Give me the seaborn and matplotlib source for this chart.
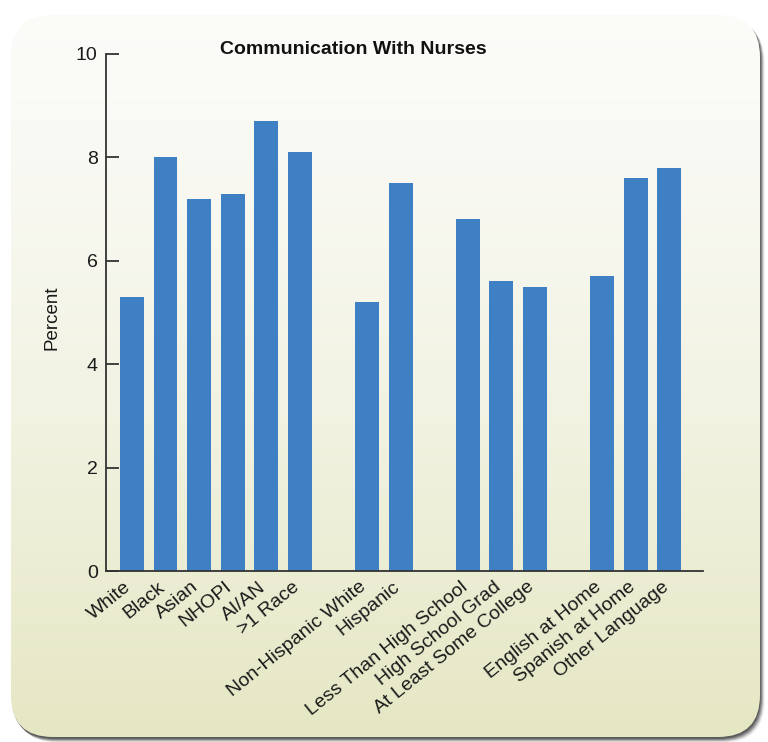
import numpy as np
import pandas as pd
import matplotlib
matplotlib.use("Agg")
import matplotlib.pyplot as plt
from matplotlib.patches import FancyBboxPatch
from matplotlib.transforms import ScaledTranslation
import seaborn as sns

# Percent by group, one list per grouping
race_labels = ["White", "Black", "Asian", "NHOPI", "AI/AN", ">1 Race"]
race_values = [5.3, 8.0, 7.2, 7.3, 8.7, 8.1]

ethnicity_labels = ["Non-Hispanic White", "Hispanic"]
ethnicity_values = [5.2, 7.5]

education_labels = ["Less Than High School", "High School Grad", "At Least Some College"]
education_values = [6.8, 5.6, 5.5]

language_labels = ["English at Home", "Spanish at Home", "Other Language"]
language_values = [5.7, 7.6, 7.8]

y_ticks = [0, 2, 4, 6, 8, 10]
title = "Communication With Nurses"
y_label = "Percent"

groups = [
    (race_labels, race_values),
    (ethnicity_labels, ethnicity_values),
    (education_labels, education_values),
    (language_labels, language_values),
]

# Build the category order with an empty slot between groups
order, tick_text, rows = [], [], []
for gi, (labels, values) in enumerate(groups):
    if gi > 0:
        spacer = " " * gi
        order.append(spacer)
        tick_text.append("")
    for lab, val in zip(labels, values):
        order.append(lab)
        tick_text.append(lab)
        rows.append({"category": lab, "percent": val})
df = pd.DataFrame(rows)

sns.set_theme(style="white")
plt.rcParams["font.family"] = ["Liberation Sans", "DejaVu Sans"]

W, H = 768, 742
fig = plt.figure(figsize=(W / 100, H / 100), dpi=100)
fig.patch.set_facecolor("white")

# Rounded panel with soft shadow and vertical gradient
bg = fig.add_axes([0, 0, 1, 1], zorder=0)
bg.set_xlim(0, W)
bg.set_ylim(H, 0)
bg.axis("off")

px0, py0, px1, py1 = 11, 15, 760, 737
rad = 42
for k, a in zip(range(10, 0, -1), np.linspace(0.04, 0.5, 10)):
    sh = FancyBboxPatch((px0 + rad + k * 0.5, py0 + rad + k * 0.5 + 1),
                        (px1 - px0) - 2 * rad, (py1 - py0) - 2 * rad,
                        boxstyle=f"round,pad={rad}", fc="#2e2e2e", ec="none",
                        alpha=a * 0.5, zorder=1)
    bg.add_patch(sh)

panel = FancyBboxPatch((px0 + rad, py0 + rad), (px1 - px0) - 2 * rad,
                       (py1 - py0) - 2 * rad, boxstyle=f"round,pad={rad}",
                       fc="none", ec="none", zorder=2)
bg.add_patch(panel)
top = np.array([0.985, 0.985, 0.975])
bot = np.array([0.898, 0.906, 0.765])
t = np.linspace(0, 1, 256) ** 1.4
grad = (top[None, :] * (1 - t[:, None]) + bot[None, :] * t[:, None])[:, None, :]
im = bg.imshow(grad, extent=(px0, px1, py1, py0), aspect="auto",
               interpolation="bilinear", zorder=2)
im.set_clip_path(panel)

# Main bar chart
ax = fig.add_axes([106 / W, 1 - 571 / H, (703 - 106) / W, (571 - 54) / H], zorder=2)
ax.set_facecolor("none")
sns.barplot(data=df, x="category", y="percent", order=order, color="#3f7fc4",
            saturation=1, width=0.71, ax=ax, edgecolor="none")

ax.set_ylim(0, 10)
ax.set_xlim(-0.77, 17.0)
ax.set_yticks(y_ticks)
ax.set_yticklabels([str(v) for v in y_ticks], fontsize=14, color="#1a1a1a")
ax.set_xticks(range(len(order)))
ax.set_xticklabels(tick_text, rotation=39, ha="right", va="top",
                   rotation_mode="anchor", fontsize=14, color="#1a1a1a")
ax.tick_params(axis="x", length=0, pad=1)
ax.tick_params(axis="y", length=9.5, width=1.3, color="#333333", pad=6,
               direction="in", left=True)
shift = ScaledTranslation(-8 / 100, -6 / 100, fig.dpi_scale_trans)
for lab in ax.get_xticklabels():
    lab.set_transform(lab.get_transform() + shift)
ax.set_xlabel("")
ax.set_ylabel(y_label, fontsize=13.5, color="#1a1a1a", labelpad=22)
ax.yaxis.set_label_coords(-45 / (703 - 106), (571 - 318) / (571 - 54))
for side in ("top", "right"):
    ax.spines[side].set_visible(False)
for side in ("left", "bottom"):
    ax.spines[side].set_color("#333333")
    ax.spines[side].set_linewidth(1.3)

fig.text(353.5 / W, 1 - 49 / H, title, ha="center", va="center",
         fontsize=14, fontweight="bold", color="#111111")

fig.savefig("out.png", dpi=100, facecolor="white")
